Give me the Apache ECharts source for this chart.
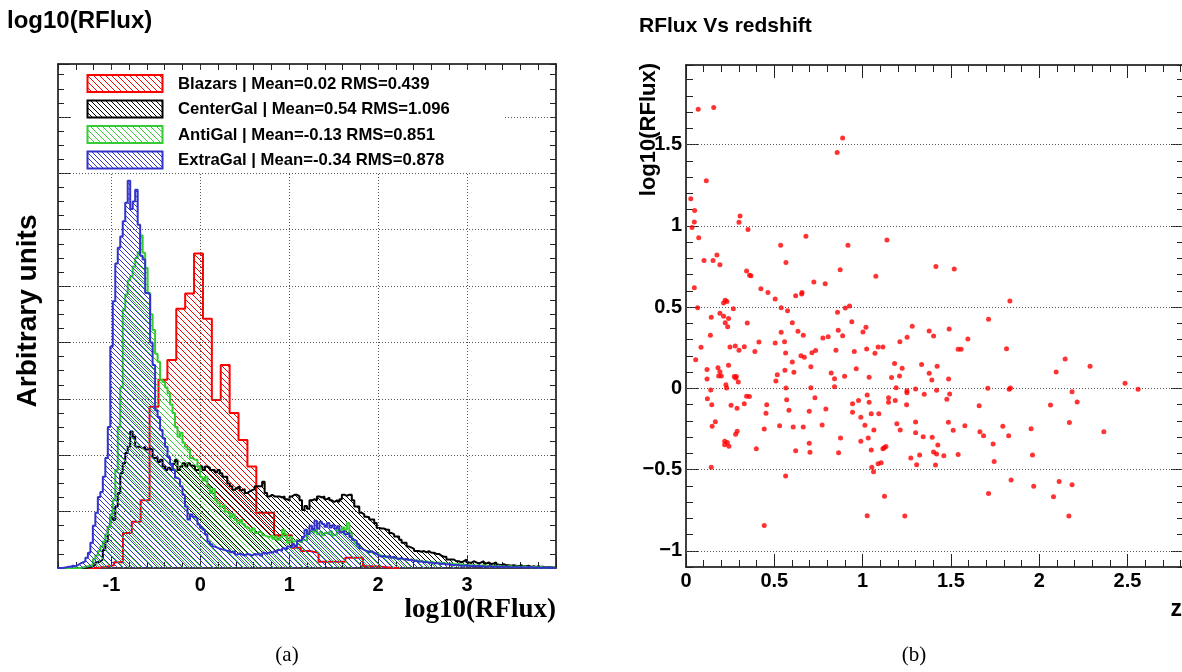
<!DOCTYPE html>
<html>
<head>
<meta charset="UTF-8">
<title>RFlux</title>
<script src="https://cdn.jsdelivr.net/npm/echarts@6/dist/echarts.min.js"></script>
<style>
  body { margin: 0; background: #fff; }
  #main { width: 1182px; height: 672px; }
</style>
</head>
<body>
<div id="main"></div>
<script type="text/javascript">
var sans = '"Liberation Sans", Arial, Helvetica, sans-serif';
var serif = '"Liberation Serif", "Times New Roman", serif';

// ---- left panel: log10(RFlux) histograms ----
var fineStart = -1.6, fineWidth = 0.028;      // CenterGal, AntiGal, ExtraGal binning
var blazarStart = -1.27, blazarWidth = 0.1;   // Blazars binning

var blazars = [0, 0.02, 0.05, 0.1, 0.62, 0.82, 1.2, 2.86, 3.34, 3.69,
  4.6, 4.87, 5.58, 4.42, 2.98, 3.6, 2.75, 2.27, 1.8, 0.98,
  0.98, 0.58, 0.58, 0.36, 0.3, 0.27, 0.11, 0.11, 0.11, 0.18,
  0.18, 0.03, 0.02, 0.01, 0];

var centerGal = [0, 0, 0, 0, 0, 0, 0, 0, 0, 0,
  0.01, 0.01, 0.02, 0.03, 0.05, 0.1, 0.12, 0.15, 0.32, 0.47,
  0.73, 0.9, 0.85, 1.09, 1.33, 1.68, 1.86, 2.04, 2.15, 2.42,
  2.33, 2.15, 2.15, 2.12, 2.15, 2.1, 2.12, 2.1, 1.95, 1.97,
  1.88, 1.92, 1.8, 1.74, 1.78, 1.74, 1.85, 1.92, 1.74, 1.8,
  1.86, 1.8, 1.86, 1.82, 1.8, 1.74, 1.74, 1.8, 1.74, 1.8,
  1.78, 1.74, 1.74, 1.7, 1.74, 1.68, 1.62, 1.62, 1.5, 1.45,
  1.39, 1.42, 1.45, 1.38, 1.4, 1.33, 1.36, 1.38, 1.4, 1.45,
  1.45, 1.45, 1.53, 1.33, 1.27, 1.3, 1.27, 1.27, 1.27, 1.25,
  1.27, 1.22, 1.2, 1.27, 1.3, 1.3, 1.27, 1.2, 1.03, 1.1,
  1.05, 1.2, 1.22, 1.2, 1.27, 1.25, 1.27, 1.22, 1.25, 1.2,
  1.17, 1.2, 1.17, 1.22, 1.3, 1.28, 1.3, 1.3, 1.2, 1.09,
  1.09, 0.98, 0.95, 0.91, 0.9, 0.86, 0.86, 0.8, 0.71, 0.7,
  0.7, 0.68, 0.68, 0.62, 0.6, 0.56, 0.56, 0.5, 0.45, 0.45,
  0.38, 0.36, 0.34, 0.3, 0.3, 0.29, 0.3, 0.28, 0.3, 0.27,
  0.27, 0.25, 0.25, 0.22, 0.2, 0.2, 0.15, 0.15, 0.15, 0.12,
  0.12, 0.1, 0.12, 0.15, 0.1, 0.09, 0.12, 0.1, 0.08, 0.1,
  0.12, 0.08, 0.1, 0.07, 0.08, 0.1, 0.06, 0.05, 0.07, 0.05,
  0.05, 0.04, 0.05, 0.04, 0.03, 0.05, 0.03, 0.03, 0.04, 0.02,
  0.03, 0.02, 0.03, 0.02, 0.02, 0.01, 0.02, 0.01, 0.01, 0.01];

var antiGal = [0, 0, 0, 0, 0, 0, 0, 0, 0, 0.01,
  0.02, 0.03, 0.04, 0.06, 0.15, 0.22, 0.3, 0.38, 0.47, 0.6,
  0.73, 0.95, 1.2, 1.74, 2.5, 3.2, 4.58, 4.85, 5.1, 5.18,
  5.35, 5.5, 5.6, 5.9, 5.59, 5.32, 4.88, 4.5, 4.22, 3.8,
  3.66, 3.34, 3.3, 3.2, 3.1, 2.9, 2.75, 2.5, 2.33, 2.4,
  2.22, 2.15, 2.1, 1.95, 1.92, 1.92, 1.8, 1.62, 1.55, 1.62,
  1.45, 1.33, 1.4, 1.2, 1.15, 1.09, 1.12, 1.0, 0.98, 0.9,
  0.95, 0.85, 0.8, 0.85, 0.78, 0.73, 0.7, 0.66, 0.7, 0.62,
  0.65, 0.62, 0.58, 0.56, 0.55, 0.58, 0.52, 0.56, 0.5, 0.55,
  0.68, 0.6, 0.45, 0.55, 0.47, 0.5, 0.47, 0.45, 0.5, 0.48,
  0.6, 0.65, 0.62, 0.68, 0.6, 0.64, 0.58, 0.62, 0.6, 0.65,
  0.58, 0.6, 0.7, 0.65, 0.72, 0.68, 0.8, 0.62, 0.5, 0.45,
  0.38, 0.35, 0.32, 0.3, 0.3, 0.28, 0.25, 0.26, 0.24, 0.22,
  0.2, 0.21, 0.18, 0.2, 0.17, 0.18, 0.16, 0.17, 0.15, 0.16,
  0.14, 0.15, 0.13, 0.14, 0.12, 0.13, 0.11, 0.12, 0.1, 0.11,
  0.1, 0.09, 0.1, 0.08, 0.09, 0.08, 0.07, 0.08, 0.07, 0.06,
  0.07, 0.06, 0.06, 0.05, 0.06, 0.05, 0.05, 0.04, 0.05, 0.04,
  0.05, 0.04, 0.04, 0.03, 0.04, 0.03, 0.04, 0.03, 0.03, 0.02,
  0.03, 0.03, 0.02, 0.03, 0.02, 0.02, 0.03, 0.02, 0.02, 0.01,
  0.02, 0.02, 0.01, 0.02, 0.01, 0.01, 0.01, 0.01, 0.01, 0];

var extraGal = [0, 0, 0.01, 0.02, 0.02, 0.04, 0.03, 0.05, 0.08, 0.1,
  0.12, 0.18, 0.27, 0.45, 0.75, 0.98, 1.26, 1.35, 1.62, 1.95,
  2.5, 3.93, 4.73, 5.4, 5.68, 5.88, 6.15, 6.48, 6.87, 6.37,
  6.5, 6.71, 6.09, 5.54, 5.47, 4.88, 4.85, 4.0, 3.6, 2.8,
  2.68, 2.45, 2.3, 2.15, 1.97, 1.85, 1.74, 1.6, 1.57, 1.45,
  1.3, 1.09, 0.86, 0.95, 0.91, 0.88, 0.77, 0.72, 0.68, 0.6,
  0.47, 0.42, 0.38, 0.36, 0.34, 0.33, 0.32, 0.3, 0.32, 0.28,
  0.3, 0.24, 0.26, 0.24, 0.22, 0.25, 0.24, 0.22, 0.25, 0.24,
  0.26, 0.22, 0.27, 0.25, 0.28, 0.27, 0.3, 0.27, 0.32, 0.3,
  0.35, 0.33, 0.38, 0.36, 0.42, 0.38, 0.48, 0.5, 0.55, 0.68,
  0.6, 0.75, 0.68, 0.84, 0.7, 0.82, 0.78, 0.73, 0.8, 0.72,
  0.76, 0.7, 0.74, 0.63, 0.66, 0.6, 0.62, 0.55, 0.5, 0.48,
  0.42, 0.35, 0.32, 0.3, 0.28, 0.3, 0.27, 0.25, 0.22, 0.2,
  0.22, 0.19, 0.21, 0.18, 0.2, 0.17, 0.16, 0.18, 0.15, 0.16,
  0.14, 0.15, 0.12, 0.13, 0.11, 0.12, 0.1, 0.11, 0.09, 0.1,
  0.08, 0.09, 0.08, 0.07, 0.08, 0.06, 0.07, 0.06, 0.05, 0.06,
  0.05, 0.04, 0.04, 0.05, 0.04, 0.03, 0.04, 0.03, 0.04, 0.03,
  0.03, 0.02, 0.03, 0.03, 0.02, 0.03, 0.02, 0.02, 0.03, 0.02,
  0.02, 0.01, 0.02, 0.02, 0.01, 0.02, 0.01, 0.01, 0.02, 0.01,
  0.01, 0.01, 0.01, 0, 0.01, 0.01, 0, 0.01, 0, 0];

var legendLabels = ['Blazars | Mean=0.02 RMS=0.439', 'CenterGal | Mean=0.54 RMS=1.096',
  'AntiGal | Mean=-0.13 RMS=0.851', 'ExtraGal | Mean=-0.34 RMS=0.878'];
var histColors = ['#ff0000', '#000000', '#33cc33', '#3333cc'];
var histLabelX = [-1, 0, 1, 2, 3];
var histTickX = [-1, 0, 1, 2, 3, 4];
var histGridX = [-1, 0, 1, 2, 3];
var histGridY = [1, 2, 3, 4, 5, 6, 7, 8];

// ---- right panel: RFlux vs redshift ----
var redshift = [0.069, 0.157, 0.887, 0.856, 0.115, 0.027, 0.049, 0.047, 0.034, 0.072,
  0.306, 0.300, 0.351, 0.536, 0.679, 0.917, 1.138, 0.102, 0.153, 0.175,
  0.192, 0.566, 0.343, 0.360, 0.368, 0.873, 1.075, 0.047, 0.424, 0.464,
  0.505, 0.621, 0.655, 0.657, 0.724, 0.788, 0.213, 0.222, 0.232, 0.066,
  0.268, 0.539, 0.575, 0.926, 0.902, 0.858, 0.192, 0.213, 0.241, 0.143,
  0.222, 0.236, 0.347, 0.602, 0.939, 0.138, 0.539, 0.634, 0.664, 0.862,
  0.887, 1.002, 1.019, 1.281, 1.377, 0.775, 0.805, 1.252, 1.211, 0.413,
  0.505, 0.558, 0.085, 0.249, 0.279, 0.330, 0.300, 0.390, 0.564, 0.602,
  0.651, 0.670, 0.713, 0.734, 0.849, 0.953, 1.023, 1.070, 1.088, 1.115,
  0.055, 0.119, 0.181, 0.192, 0.241, 0.560, 0.707, 0.964, 1.181, 1.224,
  1.334, 1.377,
  0.185, 0.200, 0.273, 0.281, 0.285, 0.119, 0.517, 0.509, 0.611, 0.822,
  0.841, 0.898, 0.226, 0.230, 0.296, 0.566, 0.707, 0.841, 1.037, 1.164,
  1.209, 1.190, 1.251, 1.251, 1.300, 1.349, 0.121, 0.140, 0.146, 0.166,
  0.148, 0.255, 0.289, 0.330, 0.343, 0.359, 0.290, 0.281, 0.219, 0.234,
  0.219, 0.243, 0.143, 0.398, 0.457, 0.453, 0.443, 0.530, 0.570, 0.583,
  0.607, 0.621, 0.664, 0.698, 0.730, 0.698, 0.702, 0.564, 0.443, 0.771,
  0.792, 0.875, 0.864, 0.943, 0.943, 0.977, 0.990, 0.990, 1.013, 1.026,
  1.037, 1.032, 1.049, 1.064, 1.049, 1.026, 1.052, 1.062, 1.092, 1.088,
  1.105, 1.115, 1.122, 1.132, 1.124, 1.147, 1.147, 1.185, 1.194, 1.213,
  1.249, 1.273, 1.239, 1.300, 1.300, 1.306, 1.323, 1.343,
  1.415, 1.519, 1.834, 1.713, 1.490, 1.402, 1.596, 1.541, 1.558, 1.815,
  1.422, 2.147, 2.288, 2.096, 1.392, 1.487, 2.486, 2.560, 1.709, 1.830,
  1.837, 1.419, 1.493, 1.477, 2.186, 2.215, 2.064, 1.660, 1.486, 1.579,
  2.171, 1.794, 1.513, 1.664, 1.685, 1.827, 1.954, 2.366, 1.394, 1.426,
  1.739, 1.402, 1.419, 1.460, 1.541, 1.962, 1.413, 1.745, 1.841, 1.969,
  2.113, 2.186, 1.713, 2.081, 2.168];

var logFlux = [1.718, 1.728, 1.541, 1.451, 1.278, 1.166, 1.094, 1.024, 0.989, 0.927,
  1.061, 1.022, 0.977, 0.880, 0.936, 0.880, 0.913, 0.786, 0.786, 0.821,
  0.761, 0.774, 0.722, 0.696, 0.692, 0.730, 0.690, 0.619, 0.613, 0.589,
  0.550, 0.570, 0.581, 0.589, 0.655, 0.644, 0.525, 0.542, 0.534, 0.496,
  0.490, 0.496, 0.478, 0.507, 0.494, 0.468, 0.462, 0.443, 0.429, 0.437,
  0.404, 0.379, 0.402, 0.404, 0.410, 0.326, 0.345, 0.351, 0.326, 0.357,
  0.324, 0.347, 0.376, 0.382, 0.353, 0.310, 0.318, 0.314, 0.287, 0.285,
  0.279, 0.287, 0.252, 0.254, 0.260, 0.256, 0.234, 0.226, 0.217, 0.162,
  0.201, 0.191, 0.219, 0.232, 0.234, 0.226, 0.242, 0.215, 0.254, 0.254,
  0.176, 0.115, 0.127, 0.102, 0.142, 0.111, 0.133, 0.121, 0.152, 0.123,
  0.146, 0.092,
  0.076, 0.076, 0.072, 0.063, 0.072, 0.057, 0.084, 0.045, 0.098, 0.094,
  0.059, 0.074, 0.022, 0.002, 0.039, 0.002, 0.004, 0.010, 0.068, 0.066,
  0.076, 0.004, -0.015, -0.027, -0.004, -0.037, -0.064, -0.010, -0.101, -0.206,
  -0.234, -0.105, -0.123, -0.095, -0.049, -0.051, -0.265, -0.283, -0.326, -0.334,
  -0.347, -0.357, -0.486, -0.372, -0.101, -0.154, -0.251, -0.230, -0.070, -0.135,
  -0.238, -0.384, -0.238, -0.142, -0.058, -0.339, -0.394, -0.540, -0.844, -0.226,
  -0.128, -0.306, -0.396, -0.095, -0.147, -0.075, -0.179, -0.326, -0.228, -0.041,
  -0.086, -0.306, -0.156, -0.257, -0.380, -0.784, -0.486, -0.513, -0.156, -0.464,
  -0.458, -0.372, -0.366, -0.359, -0.665, -0.058, -0.086, -0.075, -0.218, -0.257,
  -0.101, -0.429, -0.786, -0.207, -0.273, -0.470, -0.411, -0.298,
  0.749, 0.735, 0.538, 0.425, 0.365, 0.322, 0.304, 0.240, 0.240, 0.244,
  0.135, 0.180, 0.135, 0.100, 0.051, 0.057, 0.031, -0.006, 0.000, -0.006,
  0.002, -0.012, -0.035, -0.068, -0.021, -0.084, -0.103, -0.108, -0.209, -0.230,
  -0.211, -0.233, -0.259, -0.267, -0.292, -0.292, -0.249, -0.267, -0.302, -0.349,
  -0.343, -0.392, -0.405, -0.415, -0.407, -0.411, -0.472, -0.450, -0.565, -0.603,
  -0.573, -0.593, -0.647, -0.667, -0.786];

var zLabelX = [0, 0.5, 1, 1.5, 2, 2.5];
var fluxTicksY = [-1, -0.5, 0, 0.5, 1, 1.5];
var fluxGridY = [-1, -0.5, 0, 0.5, 1, 1.5];

// hatch fill like ROOT 3004 style
function hatch(color, size) {
  var c = document.createElement('canvas');
  c.width = size; c.height = size;
  var ctx = c.getContext('2d');
  ctx.strokeStyle = color;
  ctx.lineWidth = 1;
  ctx.beginPath();
  ctx.moveTo(-1, -1); ctx.lineTo(size + 1, size + 1);
  ctx.moveTo(-1, size - 1); ctx.lineTo(1, size + 1);
  ctx.moveTo(size - 1, -1); ctx.lineTo(size + 1, 1);
  ctx.stroke();
  return { image: c, repeat: 'repeat' };
}
var patterns = [hatch(histColors[0], 6), hatch(histColors[1], 5), hatch(histColors[2], 6), hatch(histColors[3], 5)];

function stepData(start, width, vals) {
  var d = [[start, 0]];
  for (var i = 0; i < vals.length; i++) d.push([start + i * width, vals[i]]);
  d.push([start + vals.length * width, 0]);
  return d;
}

var scatterData = [];
for (var i = 0; i < redshift.length; i++) scatterData.push([redshift[i], logFlux[i]]);

var tickLine = { color: '#222', width: 1 };
function axis(o) {
  var base = {
    type: 'value',
    axisLine: { show: false, onZero: false, lineStyle: { color: '#000', width: 1.5 } },
    axisTick: { show: false },
    axisLabel: { show: false },
    splitLine: { show: false }
  };
  for (var k in o) base[k] = o[k];
  return base;
}
var frameLine = { show: true, onZero: false, lineStyle: { color: '#000', width: 1.5 } };
var labelStyle = { color: '#000', fontSize: 20, fontWeight: 'bold', fontFamily: sans };

var gridLineStyle = { color: '#555', width: 1, type: [1, 2] };
function gridMarks(xs, ys) {
  var data = [];
  xs.forEach(function (v) { data.push({ xAxis: v }); });
  ys.forEach(function (v) { data.push({ yAxis: v }); });
  return {
    silent: true, symbol: ['none', 'none'], label: { show: false },
    lineStyle: gridLineStyle, emphasis: { disabled: true }, data: data
  };
}

var histSeries = [
  { name: legendLabels[0], start: blazarStart, width: blazarWidth, vals: blazars },
  { name: legendLabels[1], start: fineStart, width: fineWidth, vals: centerGal },
  { name: legendLabels[2], start: fineStart, width: fineWidth, vals: antiGal },
  { name: legendLabels[3], start: fineStart, width: fineWidth, vals: extraGal }
].map(function (h, k) {
  var s = {
    type: 'line', name: h.name, xAxisIndex: 0, yAxisIndex: 0,
    step: 'end', symbol: 'none', z: 3 + k,
    data: stepData(h.start, h.width, h.vals),
    itemStyle: { color: histColors[k] },
    lineStyle: { color: histColors[k], width: 2 },
    areaStyle: { color: patterns[k], opacity: 1 }
  };
  if (k === 0) s.markLine = gridMarks(histGridX, histGridY);
  return s;
});

var graphics = [
  { type: 'text', x: 7, y: 21, style: { text: 'log10(RFlux)', font: 'bold 24px ' + sans, fill: '#000', textVerticalAlign: 'middle' } },
  { type: 'text', x: 639, y: 26, style: { text: 'RFlux Vs redshift', font: 'bold 21px ' + sans, fill: '#000', textVerticalAlign: 'middle' } },
  { type: 'text', x: 28, y: 311, rotation: Math.PI / 2, style: { text: 'Arbitrary units', font: 'bold 28px ' + sans, fill: '#000', textAlign: 'center', textVerticalAlign: 'middle' } },
  { type: 'text', x: 556, y: 610, style: { text: 'log10(RFlux)', font: 'bold 27px ' + serif, fill: '#000', textAlign: 'right', textVerticalAlign: 'middle' } },
  { type: 'text', x: 649, y: 63, rotation: Math.PI / 2, style: { text: 'log10(RFlux)', font: 'bold 22px ' + sans, fill: '#000', textAlign: 'right', textVerticalAlign: 'middle' } },
  { type: 'text', x: 1182, y: 610, style: { text: 'z', font: 'bold 23px ' + sans, fill: '#000', textAlign: 'right', textVerticalAlign: 'middle' } },
  { type: 'text', x: 287, y: 655, style: { text: '(a)', font: '21px ' + serif, fill: '#000', textAlign: 'center', textVerticalAlign: 'middle' } },
  { type: 'text', x: 914, y: 655, style: { text: '(b)', font: '21px ' + serif, fill: '#000', textAlign: 'center', textVerticalAlign: 'middle' } },
  { type: 'rect', z: 10, shape: { x: 72, y: 71, width: 433, height: 101 }, style: { fill: '#fff' } }
];
var legendTops = [75, 100.5, 126, 151.5];
legendLabels.forEach(function (t, k) {
  graphics.push({ type: 'rect', z: 11, shape: { x: 87.5, y: legendTops[k], width: 75, height: 17 },
    style: { fill: patterns[k], stroke: histColors[k], lineWidth: 2 } });
  graphics.push({ type: 'text', z: 11, x: 178, y: legendTops[k] + 9,
    style: { text: t, font: 'bold 16.7px ' + sans, fill: '#000', textVerticalAlign: 'middle' } });
});

var option = {
  animation: false,
  backgroundColor: '#ffffff',
  grid: [
    { left: 58, top: 64, width: 498, height: 504, outerBoundsMode: 'none' },
    { left: 686, top: 65, width: 498, height: 502, outerBoundsMode: 'none' }
  ],
  xAxis: [
    axis({ gridIndex: 0, position: 'bottom', min: -1.6, max: 4, axisLine: frameLine,
      axisTick: { show: true, inside: true, length: 12, customValues: histTickX, lineStyle: tickLine },
      axisLabel: Object.assign({ show: true, margin: 7, customValues: histLabelX }, labelStyle) }),
    axis({ gridIndex: 0, position: 'bottom', min: -1.6, max: 4, interval: 0.2,
      axisTick: { show: true, inside: true, length: 6, lineStyle: tickLine } }),
    axis({ gridIndex: 0, position: 'top', min: -1.6, max: 4, interval: 0.2, axisLine: frameLine,
      axisTick: { show: true, inside: true, length: 6, lineStyle: tickLine } }),
    axis({ gridIndex: 1, position: 'bottom', min: 0, max: 2.82, axisLine: frameLine,
      axisTick: { show: true, inside: true, length: 13, customValues: zLabelX, lineStyle: tickLine },
      axisLabel: Object.assign({ show: true, margin: 4, customValues: zLabelX }, labelStyle) }),
    axis({ gridIndex: 1, position: 'bottom', min: 0, max: 2.82, interval: 0.1,
      axisTick: { show: true, inside: true, length: 7, lineStyle: tickLine } }),
    axis({ gridIndex: 1, position: 'top', min: 0, max: 2.82, axisLine: frameLine,
      axisTick: { show: true, inside: true, length: 13, customValues: zLabelX, lineStyle: tickLine } }),
    axis({ gridIndex: 1, position: 'top', min: 0, max: 2.82, interval: 0.1,
      axisTick: { show: true, inside: true, length: 7, lineStyle: tickLine } })
  ],
  yAxis: [
    axis({ gridIndex: 0, position: 'left', min: 0, max: 8.94, interval: 1, axisLine: frameLine,
      axisTick: { show: true, inside: true, length: 12, lineStyle: tickLine } }),
    axis({ gridIndex: 0, position: 'left', min: 0, max: 8.94, interval: 0.25,
      axisTick: { show: true, inside: true, length: 6, lineStyle: tickLine } }),
    axis({ gridIndex: 0, position: 'right', min: 0, max: 8.94, interval: 0.25, axisLine: frameLine,
      axisTick: { show: true, inside: true, length: 6, lineStyle: tickLine } }),
    axis({ gridIndex: 1, position: 'left', min: -1.1, max: 1.99, axisLine: frameLine,
      axisTick: { show: true, inside: true, length: 13, customValues: fluxTicksY, lineStyle: tickLine },
      axisLabel: Object.assign({ show: true, margin: 4, customValues: fluxTicksY,
        formatter: function (v) { return v < 0 ? '\u2212' + (-v) : String(v); } }, labelStyle) }),
    axis({ gridIndex: 1, position: 'left', min: -1.1, max: 1.99, interval: 0.1,
      axisTick: { show: true, inside: true, length: 7, lineStyle: tickLine } }),
    axis({ gridIndex: 1, position: 'right', min: -1.1, max: 1.99, axisLine: frameLine,
      axisTick: { show: true, inside: true, length: 13, customValues: fluxTicksY, lineStyle: tickLine } }),
    axis({ gridIndex: 1, position: 'right', min: -1.1, max: 1.99, interval: 0.1,
      axisTick: { show: true, inside: true, length: 7, lineStyle: tickLine } })
  ],
  series: histSeries.concat([{
    type: 'scatter', xAxisIndex: 3, yAxisIndex: 3, symbol: 'circle', symbolSize: 5,
    itemStyle: { color: '#ff0000' }, data: scatterData, z: 5,
    markLine: gridMarks([], fluxGridY)
  }]),
  graphic: graphics
};

var myChart = echarts.init(document.getElementById('main'));
myChart.setOption(option);
</script>
</body>
</html>
